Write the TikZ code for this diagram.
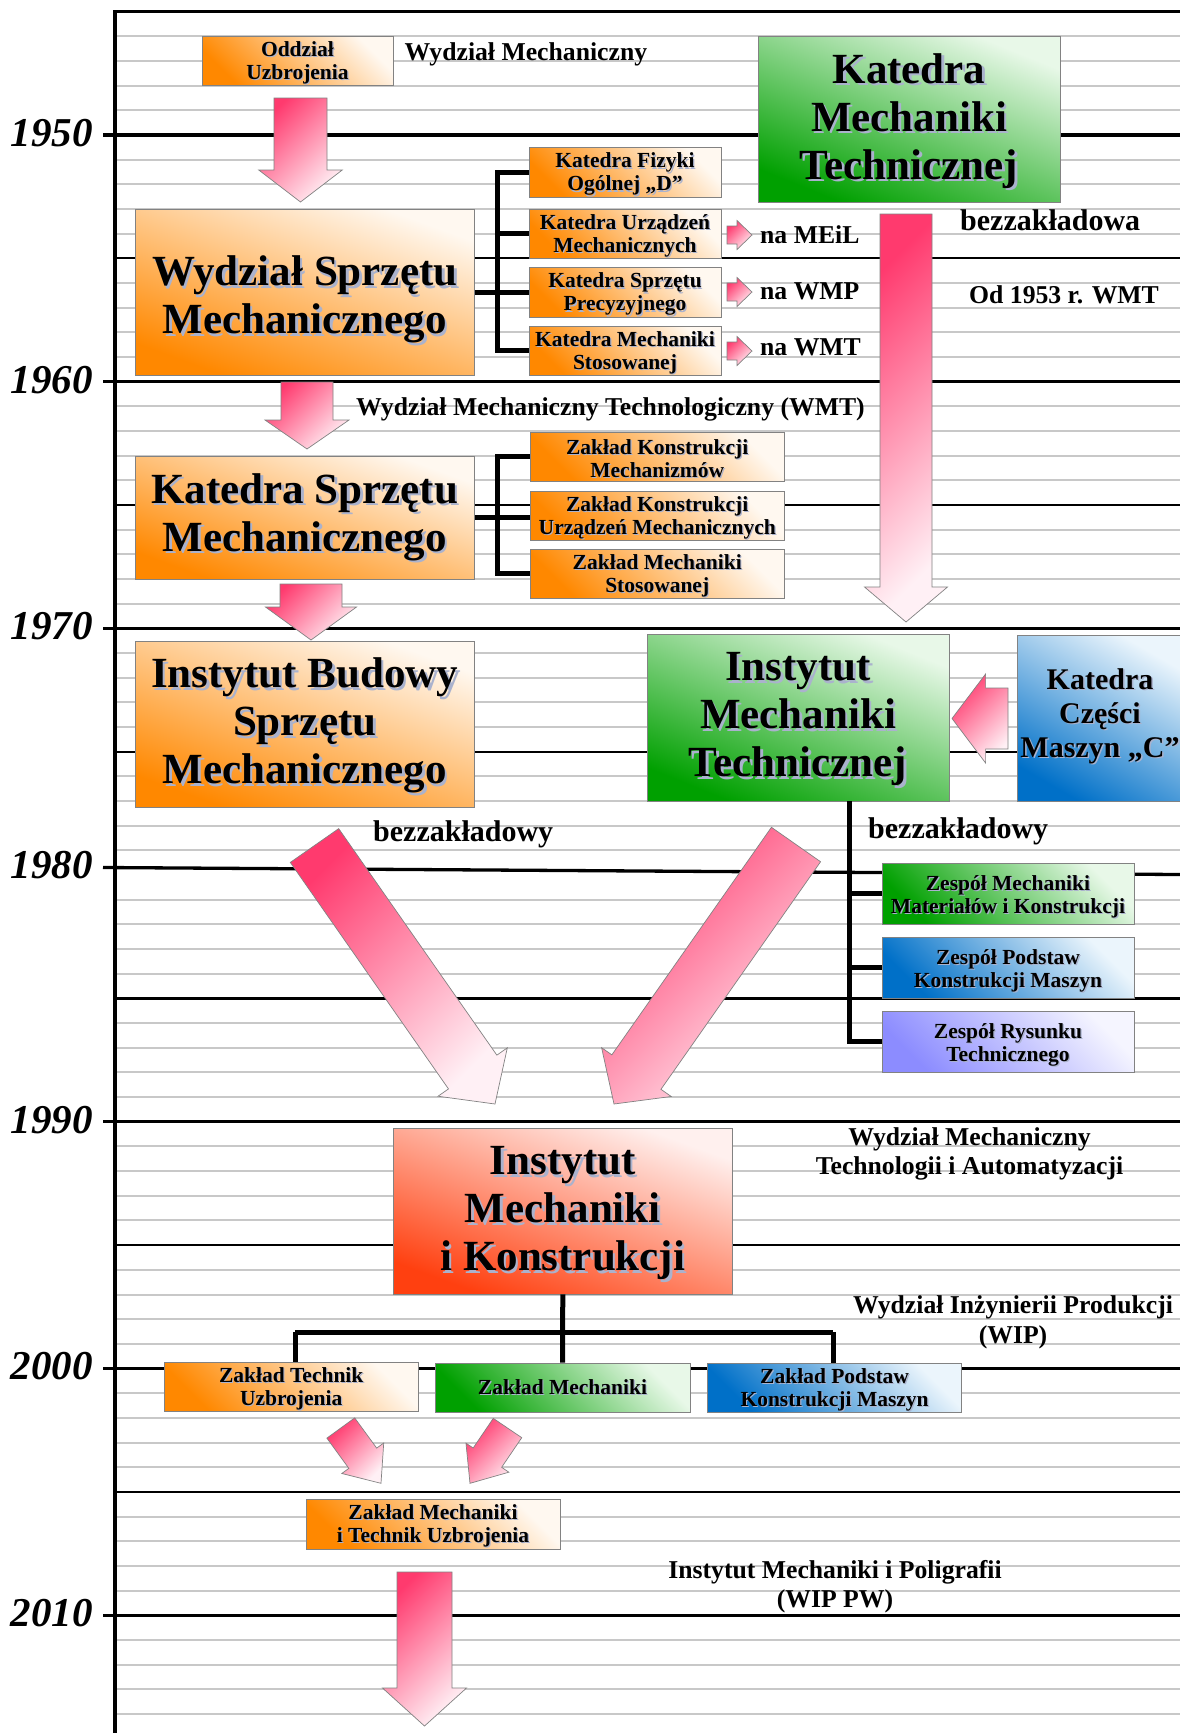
\documentclass[tikz,border=0pt]{standalone}
\usepackage{fontspec}
\setmainfont{Liberation Serif}
\usetikzlibrary{calc}
\definecolor{OrD}{RGB}{255,136,0}
\definecolor{OrL}{RGB}{255,248,240}
\definecolor{GrD}{RGB}{0,160,0}
\definecolor{GrL}{RGB}{232,248,232}
\definecolor{BlD}{RGB}{0,112,200}
\definecolor{BlL}{RGB}{235,245,252}
\definecolor{ReD}{RGB}{255,64,16}
\definecolor{ReL}{RGB}{255,240,238}
\definecolor{PuD}{RGB}{140,140,255}
\definecolor{PuL}{RGB}{245,245,255}
\definecolor{PiD}{RGB}{255,58,110}
\definecolor{PiL}{RGB}{255,240,245}
\definecolor{GridC}{RGB}{200,200,200}
\definecolor{BoxB}{RGB}{130,130,130}
\definecolor{ShadowC}{RGB}{170,178,205}
\newcommand{\txs}[2][2.5]{\leavevmode\rlap{\kern#1pt\raisebox{-#1pt}{\textcolor{ShadowC}{#2}}}#2}
\newcommand{\pinkarrow}[6]{%
  \coordinate (#1T) at (#2);
  \coordinate (#1P) at (#3);
  \coordinate (#1H) at ($(#1P)!#6pt!(#1T)$);
  \draw[pinkarr] ($(#1T)!#4pt!90:(#1P)$) -- ($(#1H)!#4pt!90:(#1P)$) -- ($(#1H)!#5pt!90:(#1P)$) -- (#1P) -- ($(#1H)!#5pt!-90:(#1P)$) -- ($(#1H)!#4pt!-90:(#1P)$) -- ($(#1T)!#4pt!-90:(#1P)$) -- cycle;}
% #1 name, #2 box style, #3 x, #4 y, #5 w, #6 h, #7 text style, #8 text shift down, #9 text
\newcommand{\tbox}[9]{%
  \node[#2, minimum width=#5, minimum height=#6] (#1) at (#3,#4) {};
  \node[#7, align=center, inner sep=0pt] (#1t) at ($(#1.center)+(0,#8)$) {#9};}
\begin{document}
\begin{tikzpicture}[x=1pt,y=-1pt,
  gridl/.style={draw=GridC, line width=2pt},
  halfl/.style={draw=black, line width=2.2pt},
  decl/.style={draw=black, line width=3.3pt},
  axisl/.style={draw=black, line width=3.5pt},
  box/.style={draw=BoxB, line width=0.8pt, inner sep=0pt},
  obox/.style={box, bottom color=OrD, top color=OrL, shading angle=#1},
  obox/.default=-45,
  gbox/.style={box, bottom color=GrD, top color=GrL, shading angle=#1},
  gbox/.default=-45,
  bbox/.style={box, bottom color=BlD, top color=BlL, shading angle=#1},
  bbox/.default=-45,
  rbox/.style={box, bottom color=ReD, top color=ReL, shading angle=#1},
  rbox/.default=-45,
  pbox/.style={box, bottom color=PuD, top color=PuL, shading angle=#1},
  pbox/.default=-45,
  bigtxt/.style={font=\fontsize{43}{48}\selectfont\bfseries},
  midtxt/.style={font=\fontsize{30}{34}\selectfont\bfseries},
  smtxt/.style={font=\fontsize{21.5}{23}\selectfont\bfseries},
  lbl/.style={font=\fontsize{25.7}{29}\selectfont\bfseries, inner sep=0pt},
  bz/.style={font=\fontsize{30}{34}\selectfont\bfseries, inner sep=0pt},
  yearlbl/.style={font=\fontsize{41}{41}\selectfont\bfseries\itshape, anchor=east, inner sep=0pt},
  pinkarr/.style={draw=BoxB, line width=0.7pt, top color=PiD, bottom color=PiL, shading angle=45},
  brk/.style={draw=black, line width=5pt},
  treel/.style={draw=black, line width=5pt}
]
\useasboundingbox (0,0) rectangle (1180,1733);
\clip (0,0) rectangle (1180,1733);
\fill[white] (0,0) rectangle (1180,1733);
% grid
\foreach \i in {1,...,34}{\pgfmathsetmacro\yy{11.65+24.67*\i}\draw[gridl] (115,\yy) -- (1180,\yy);}
\foreach \i in {36,...,69}{\pgfmathsetmacro\yy{11.65+24.67*\i}\draw[gridl] (115,\yy) -- (1180,\yy);}
\foreach \i in {10,20,...,60}{\pgfmathsetmacro\yy{11.65+24.67*\i}\draw[halfl] (115,\yy) -- (1180,\yy);}
\foreach \i in {5,15,25,45,55,65}{\pgfmathsetmacro\yy{11.65+24.67*\i}\draw[decl] (103,\yy) -- (1180,\yy);}
\draw[decl] (103,867.5) -- (1180,874.5);
\draw[decl] (115,11.65) -- (1180,11.65);
\draw[axisl] (115,10) -- (115,1733);
% year labels
\node[yearlbl] (y1950) at (93,133) {1950};
\node[yearlbl] (y1960) at (93,379.7) {1960};
\node[yearlbl] (y1970) at (93,626.4) {1970};
\node[yearlbl] (y1980) at (93,865.5) {1980};
\node[yearlbl] (y1990) at (93,1119.8) {1990};
\node[yearlbl] (y2000) at (93,1366.5) {2000};
\node[yearlbl] (y2010) at (93,1613.2) {2010};
% arrows
\pinkarrow{aA}{300.5,98}{300.5,202}{26.5}{41.75}{32}
\pinkarrow{aB}{307,382}{307,449}{26}{42}{29}
\pinkarrow{aC}{311,584}{311,640}{31}{45.5}{33}
\pinkarrow{aD}{906,214}{906,622}{26}{41.5}{35}
\pinkarrow{aE}{424.5,1572}{424.5,1726}{27.5}{42}{38}
\pinkarrow{aF}{727,235}{752,235}{9}{14.5}{15}
\pinkarrow{aG}{727,292}{752,292}{9}{14.5}{15}
\pinkarrow{aH}{727,351}{752,351}{9}{14.5}{15}
\pinkarrow{aI}{1008,718.5}{952,718.5}{30.5}{44.5}{33.6}
\pinkarrow{aJ}{314.5,845.5}{495,1104}{29.5}{42.25}{39}
\pinkarrow{aK}{796,844.5}{614,1104}{30}{42.5}{39}
\pinkarrow{aL}{340.8,1428}{381,1483.3}{17.2}{25.9}{31}
\pinkarrow{aM}{507.5,1428}{470,1483.3}{17.2}{25.9}{31}
% boxes
\tbox{ou}{obox}{297.5}{60.5}{191}{49}{smtxt}{3}{\txs[1.2]{Oddział}\\\txs[1.2]{Uzbrojenia}}
\tbox{wsm}{obox=-20}{304.75}{292}{339.5}{166}{bigtxt}{9}{\txs{Wydział Sprzętu}\\\txs{Mechanicznego}}
\tbox{kf}{obox}{625}{172}{192}{50}{smtxt}{3}{\txs[1.2]{Katedra Fizyki}\\\txs[1.2]{Ogólnej „D”}}
\tbox{ku}{obox}{625}{233.5}{192}{49}{smtxt}{3}{\txs[1.2]{Katedra Urządzeń}\\\txs[1.2]{Mechanicznych}}
\tbox{ks}{obox}{625}{292}{192}{50}{smtxt}{3}{\txs[1.2]{Katedra Sprzętu}\\\txs[1.2]{Precyzyjnego}}
\tbox{kms}{obox}{625}{350.5}{192}{49}{smtxt}{3}{\txs[1.2]{Katedra Mechaniki}\\\txs[1.2]{Stosowanej}}
\tbox{kmt}{gbox=-22}{909}{119}{302}{166}{bigtxt}{3}{\txs{Katedra}\\\txs{Mechaniki}\\\txs{Technicznej}}
\tbox{ksm}{obox=-20}{304.75}{517.5}{339.5}{123}{bigtxt}{1}{\txs{Katedra Sprzętu}\\\txs{Mechanicznego}}
\tbox{zkm}{obox}{657.25}{456.5}{254.5}{49}{smtxt}{3}{\txs[1.2]{Zakład Konstrukcji}\\\txs[1.2]{Mechanizmów}}
\tbox{zku}{obox}{657.25}{515.5}{254.5}{49}{smtxt}{3}{\txs[1.2]{Zakład Konstrukcji}\\\txs[1.2]{Urządzeń Mechanicznych}}
\tbox{zms}{obox}{657.25}{573.5}{254.5}{49}{smtxt}{3}{\txs[1.2]{Zakład Mechaniki}\\\txs[1.2]{Stosowanej}}
\tbox{ibsm}{obox=-20}{304.75}{724}{339.5}{166}{bigtxt}{3}{\txs{Instytut Budowy}\\\txs{Sprzętu}\\\txs{Mechanicznego}}
\tbox{imt}{gbox=-22}{798}{717.5}{302}{167}{bigtxt}{3}{\txs{Instytut}\\\txs{Mechaniki}\\\txs{Technicznej}}
\tbox{kcm}{bbox=-30}{1100}{718}{166}{166}{midtxt}{-1}{\txs[1.5]{Katedra}\\\txs[1.5]{Części}\\\txs[1.5]{Maszyn „C”}}
\tbox{zmk}{gbox}{1008}{893.5}{252}{61}{smtxt}{3.5}{\txs[1.2]{Zespół Mechaniki}\\\txs[1.2]{Materiałów i Konstrukcji}}
\tbox{zpk}{bbox}{1008}{967.5}{252}{61}{smtxt}{3.5}{\txs[1.2]{Zespół Podstaw}\\\txs[1.2]{Konstrukcji Maszyn}}
\tbox{zrt}{pbox}{1008}{1041.5}{252}{61}{smtxt}{3.5}{\txs[1.2]{Zespół Rysunku}\\\txs[1.2]{Technicznego}}
\tbox{imik}{rbox=-20}{562.8}{1211}{338.4}{166}{bigtxt}{3.5}{\txs{Instytut}\\\txs{Mechaniki}\\\txs{i Konstrukcji}}
\tbox{ztu}{obox}{291.2}{1386.5}{254.4}{49}{smtxt}{2.5}{\txs[1.2]{Zakład Technik}\\\txs[1.2]{Uzbrojenia}}
\tbox{zm}{gbox}{562.5}{1387.5}{255}{49}{smtxt}{0}{\txs[1.2]{Zakład Mechaniki}}
\tbox{zpkm}{bbox}{834.6}{1387.5}{254.4}{49}{smtxt}{2.5}{\txs[1.2]{Zakład Podstaw}\\\txs[1.2]{Konstrukcji Maszyn}}
\tbox{zmtu}{obox}{433}{1524}{254}{50}{smtxt}{2.5}{\txs[1.2]{Zakład Mechaniki}\\\txs[1.2]{i Technik Uzbrojenia}}
% brackets
\draw[brk] (kf.west) -- ++(-31,0) |- (kms.west);
\draw[brk] (ku.west) -- ++(-31,0);
\draw[brk] (wsm.east) -- (ks.west);
\draw[brk] (zkm.west) -- ++(-32.5,0) |- (zms.west);
\draw[brk] (ksm.east) -- (ksm.east -| zku.west);
\draw[brk] ($(imt.south)+(51,0)$) |- (zrt.west);
\draw[brk] (zmk.west) -- ++(-33,0);
\draw[brk] (zpk.west) -- ++(-33,0);
% tree
\coordinate (tl) at (295,1332);
\coordinate (tr) at (833,1332);
\draw[treel] (imik.south) -- (zm.north);
\draw[treel] (tl) -- (tr);
\draw[treel] (tl) -- (tl |- ztu.north);
\draw[treel] (tr) -- (tr |- zpkm.north);
% labels
\node[lbl, anchor=base west] (lwm) at (404.5,60) {Wydział Mechaniczny};
\node[lbl, anchor=base west] (lwmt) at (356,415) {Wydział Mechaniczny Technologiczny (WMT)};
\node[lbl, anchor=base west] (lmeil) at (760,243) {na MEiL};
\node[lbl, anchor=base west] (lwmp) at (760,299) {na WMP};
\node[lbl, anchor=base west] (lwmtb) at (760,355.5) {na WMT};
\node[bz, anchor=base west] (lbza) at (960,230) {bezzakładowa};
\node[lbl, anchor=base west] (l1953) at (969,303.3) {Od 1953 r. WMT};
\node[bz, anchor=base west] (lbzb) at (373,841) {bezzakładowy};
\node[bz, anchor=base west] (lbzc) at (868,838.3) {bezzakładowy};
\node[lbl, anchor=base] (lwmtaa) at (969.5,1145) {Wydział Mechaniczny};
\node[lbl, anchor=base] (lwmtab) at (969.5,1174) {Technologii i Automatyzacji};
\node[lbl, anchor=base] (lwipa) at (1013,1313) {Wydział Inżynierii Produkcji};
\node[lbl, anchor=base] (lwipb) at (1013,1343) {(WIP)};
\node[lbl, anchor=base] (limpa) at (835,1578) {Instytut Mechaniki i Poligrafii};
\node[lbl, anchor=base] (limpb) at (835,1607) {(WIP PW)};
\end{tikzpicture}
\end{document}
